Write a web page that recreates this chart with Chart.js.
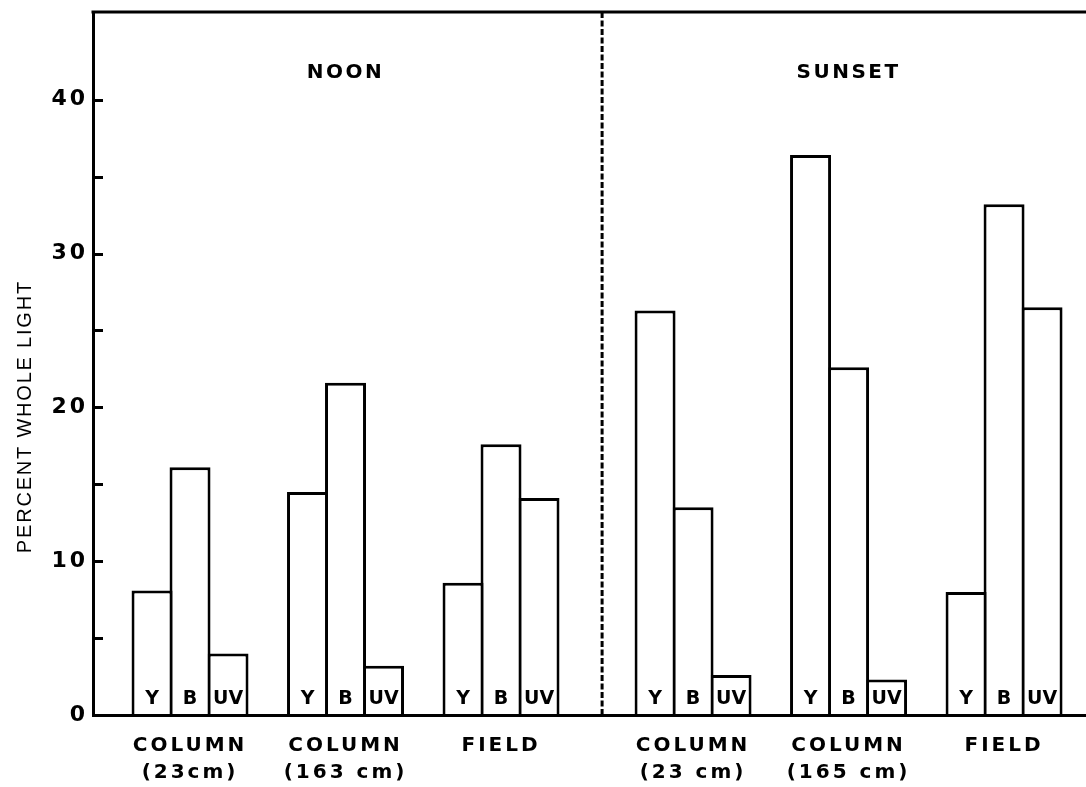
<!DOCTYPE html>
<html><head><meta charset="utf-8">
<script src="https://cdn.jsdelivr.net/npm/chart.js@4.4.0/dist/chart.umd.min.js"></script>
<style>html,body{margin:0;padding:0;background:#fff;}canvas{display:block;}</style>
</head><body><canvas id="c" width="1086" height="787"></canvas>
<script>
// ---- data ----
const categories = [['COLUMN','(23cm)'],['COLUMN','(163 cm)'],['FIELD'],['COLUMN','(23 cm)'],['COLUMN','(165 cm)'],['FIELD']];
const periods = ['NOON','SUNSET'];
const seriesNames = ['Y','B','UV'];
const yellowValues = [8.1, 14.5, 8.6, 26.3, 36.4, 8.0];
const blueValues   = [16.1, 21.6, 17.6, 13.5, 22.6, 33.2];
const uvValues     = [4.0, 3.2, 14.1, 2.6, 2.3, 26.5];
const yTickLabels  = [0, 10, 20, 30, 40];
const yAxisTitle   = 'PERCENT WHOLE LIGHT';

// ---- layout helpers ----
const HALF_GAP = 0.235;            // extra space between the noon and sunset halves
const DIVIDER = 2.65;              // dashed separator position on the x scale
const groupX = categories.map((c, i) => i + (i >= 3 ? HALF_GAP : 0));
const mk = vals => vals.map((v, i) => ({x: groupX[i], y: v}));

const decor = {
  id: 'decor',
  beforeDraw(chart) { chart.ctx.letterSpacing = '3px'; },
  afterDraw(chart) {
    const {ctx, chartArea: a, scales: {x, y}} = chart;
    ctx.save();
    ctx.letterSpacing = '0px';
    ctx.strokeStyle = '#000';
    ctx.fillStyle = '#000';
    // top frame line
    ctx.lineWidth = 3;
    ctx.beginPath(); ctx.moveTo(a.left - 1.5, a.top); ctx.lineTo(a.right, a.top); ctx.stroke();
    // inward tick marks
    y.ticks.forEach(t => {
      if (t.value > 0 && t.value < 45 && Math.abs(t.value % 5) < 1e-9) {
        const py = Math.round(y.getPixelForValue(t.value)) + 0.5;
        ctx.beginPath(); ctx.moveTo(a.left, py); ctx.lineTo(a.left + 10, py); ctx.stroke();
      }
    });
    // dashed separator
    ctx.setLineDash([6, 2.5]); ctx.lineWidth = 3;
    const dx = x.getPixelForValue(DIVIDER);
    ctx.beginPath(); ctx.moveTo(dx, a.top); ctx.lineTo(dx, a.bottom); ctx.stroke();
    ctx.setLineDash([]);
    // period headings
    ctx.font = 'bold 20px "DejaVu Sans"';
    ctx.letterSpacing = '2.5px';
    ctx.textAlign = 'center'; ctx.textBaseline = 'middle';
    periods.forEach((p, i) => ctx.fillText(p, x.getPixelForValue(groupX[i * 3 + 1]), y.getPixelForValue(41.75)));
    // letters inside bars
    ctx.letterSpacing = '0px';
    ctx.font = 'bold 19px "DejaVu Sans"';
    chart.data.datasets.forEach((ds, d) => {
      chart.getDatasetMeta(d).data.forEach(el => {
        ctx.fillText(seriesNames[d], el.x, y.getPixelForValue(0) - 16);
      });
    });
    // y axis title
    ctx.font = '20px "Liberation Sans"';
    ctx.letterSpacing = '1.8px';
    ctx.translate(25, y.getPixelForValue(19.4));
    ctx.rotate(-Math.PI / 2);
    ctx.fillText(yAxisTitle, 0, 0);
    ctx.restore();
  }
};

const barStyle = {
  backgroundColor: '#fff', borderColor: '#000',
  borderWidth: {top: 3, left: 3, right: 3, bottom: 0},
  borderSkipped: 'start',
  categoryPercentage: 0.733, barPercentage: 1.079
};

const chart = new Chart(document.getElementById('c'), {
  type: 'bar',
  data: {
    datasets: [
      Object.assign({label: seriesNames[0], data: mk(yellowValues)}, barStyle),
      Object.assign({label: seriesNames[1], data: mk(blueValues)}, barStyle),
      Object.assign({label: seriesNames[2], data: mk(uvValues)}, barStyle)
    ]
  },
  options: {
    responsive: false, animation: false, devicePixelRatio: 1,
    layout: {padding: {top: 12, right: 0, left: 0, bottom: 0}},
    plugins: {legend: {display: false}, tooltip: {enabled: false}},
    scales: {
      x: {
        type: 'linear', min: -0.624, max: 5.762, offset: false,
        grid: {display: false, drawTicks: false},
        border: {display: true, color: '#000', width: 3, z: 1},
        afterBuildTicks: s => { s.ticks = groupX.map(v => ({value: v})); },
        afterFit: s => { s.height = 72; s.paddingLeft = 0; s.paddingRight = 0; },
        ticks: {
          autoSkip: false, maxRotation: 0, minRotation: 0, padding: 17,
          color: '#000', font: {family: 'DejaVu Sans', weight: 'bold', size: 20, lineHeight: '27.5px'},
          callback: (v, i) => categories[i]
        }
      },
      y: {
        min: 0, max: 45.7,
        grid: {display: false, drawTicks: false},
        border: {display: true, color: '#000', width: 3, z: 1},
        afterFit: s => { s.width = 93; s.paddingTop = 0; s.paddingBottom = 0; },
        ticks: {
          stepSize: 5, padding: 5, color: '#000',
          font: {family: 'DejaVu Sans', weight: 'bold', size: 22},
          callback: v => yTickLabels.includes(v) ? String(v) : ''
        }
      }
    }
  },
  plugins: [decor]
});
</script></body></html>
